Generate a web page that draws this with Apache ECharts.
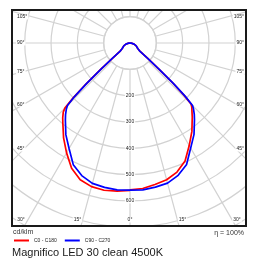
<!DOCTYPE html>
<html>
<head>
<meta charset="utf-8">
<script src="https://cdn.jsdelivr.net/npm/echarts@6/dist/echarts.min.js"></script>
<style>
html, body { margin: 0; padding: 0; background: #fff; }
#chart { width: 260px; height: 260px; }
</style>
</head>
<body>
<div id="chart"></div>
<script>
// luminous intensity, cd/klm
var gammaAngles = [0, 5, 10, 15, 20, 25, 30, 35, 40, 42, 44, 45, 46, 47, 48, 49, 50, 55, 60, 65, 70, 75, 80, 85, 90];
var c0Values   = [558, 555, 546, 538, 522, 495, 450, 410, 368, 352, 338, 328, 285, 220, 145, 88, 50, 36, 30, 26, 21, 16, 11, 5, 0];
var c180Values = [560, 565, 568, 565, 553, 525, 482, 440, 397, 382, 365, 350, 300, 230, 150, 90, 50, 36, 30, 26, 21, 16, 11, 5, 0];
var c90Values  = [559, 560, 556, 551, 535, 509, 461, 424, 381, 365, 347, 336, 292, 225, 148, 89, 50, 36, 30, 26, 21, 16, 11, 5, 0];
var c270Values = [559, 560, 557, 552, 536, 510, 463, 425, 382, 366, 348, 336, 293, 226, 148, 89, 50, 36, 30, 26, 21, 16, 11, 5, 0];

var radiusLabels = [200, 300, 400, 500, 600];
var angleLabels = [0, 15, 30, 45, 60, 75, 90, 105];
var seriesNames = ['C0 - C180', 'C90 - C270'];
var seriesColors = ['#ff0000', '#0000ff'];
var chartTitle = 'Magnifico LED 30 clean 4500K';
var unitLabel = 'cd/klm';
var efficiencyLabel = 'η = 100%';

var cx = 130, cy = 43;
var pxPer100 = 26.32;
var gridColor = '#d2d2d2';
var smallFont = 'Liberation Sans';

// left half is C180 / C270, right half C0 / C90
function buildCurve(leftValues, rightValues) {
    var points = [];
    for (var i = 0; i < gammaAngles.length; i++) {
        points.push([leftValues[i], gammaAngles[i]]);
    }
    for (var j = gammaAngles.length - 1; j >= 0; j--) {
        points.push([rightValues[j], 360 - gammaAngles[j]]);
    }
    return points;
}

function makeLabel(x, y, text, align) {
    return {
        type: 'text',
        z: 30,
        x: x,
        y: y,
        style: {
            text: text,
            fill: '#222',
            font: '5px "' + smallFont + '"',
            align: align,
            verticalAlign: 'middle',
            backgroundColor: '#fff',
            padding: [0, 1]
        }
    };
}

// angle labels sit where the spokes meet the frame
function angleLabelGraphics() {
    var out = [];
    angleLabels.forEach(function (g) {
        var rad = g * Math.PI / 180;
        var text = g + '°';
        if (g === 0) {
            out.push(makeLabel(cx, 220, text, 'center'));
        } else if (g >= 45) {
            var y = Math.max(17, cy + 106 / Math.tan(rad));
            out.push(makeLabel(16, y, text, 'left'));
            out.push(makeLabel(245, y, text, 'right'));
        } else {
            var dx = 196 * Math.tan(rad);
            out.push(makeLabel(Math.max(21, cx - dx), 220, text, 'center'));
            out.push(makeLabel(Math.min(237, cx + dx), 220, text, 'center'));
        }
    });
    return out;
}

var coverStyle = { fill: '#fff' };
var graphics = [
    // keeps the spokes out of the first ring
    {
        type: 'circle', z: 1,
        shape: { cx: cx, cy: cy, r: pxPer100 },
        style: { fill: '#fff', stroke: gridColor, lineWidth: 1.2 }
    },
    { type: 'rect', z: 10, shape: { x: 0, y: 0, width: 260, height: 9 }, style: coverStyle },
    { type: 'rect', z: 10, shape: { x: 0, y: 0, width: 11, height: 260 }, style: coverStyle },
    { type: 'rect', z: 10, shape: { x: 247, y: 0, width: 13, height: 260 }, style: coverStyle },
    { type: 'rect', z: 10, shape: { x: 0, y: 227, width: 260, height: 33 }, style: coverStyle },
    {
        type: 'rect', z: 11,
        shape: { x: 12, y: 10, width: 234, height: 216 },
        style: { fill: null, stroke: '#1a1a1a', lineWidth: 2 }
    },
    {
        type: 'text', z: 30, x: 13, y: 232,
        style: { text: unitLabel, fill: '#333', font: '7px "' + smallFont + '"', verticalAlign: 'middle' }
    },
    {
        type: 'text', z: 30, x: 244, y: 233,
        style: { text: efficiencyLabel, fill: '#333', font: '7px "' + smallFont + '"', align: 'right', verticalAlign: 'middle' }
    }
].concat(angleLabelGraphics());

var chart = echarts.init(document.getElementById('chart'), null, { renderer: 'canvas' });

var option = {
    animation: false,
    backgroundColor: '#fff',
    title: {
        text: chartTitle,
        left: 12,
        top: 247,
        padding: 0,
        z: 20,
        textStyle: {
            fontSize: 11,
            fontWeight: 'normal',
            color: '#1a1a1a',
            fontFamily: 'Liberation Sans'
        }
    },
    legend: {
        data: seriesNames,
        icon: 'rect',
        left: 14,
        top: 238,
        padding: 0,
        itemWidth: 15,
        itemHeight: 2,
        itemGap: 8,
        z: 20,
        textStyle: { fontSize: 5, color: '#222', fontFamily: smallFont }
    },
    polar: {
        center: [cx, cy],
        radius: [0, pxPer100 * 9]
    },
    angleAxis: {
        type: 'value',
        min: 0,
        max: 360,
        interval: 15,
        startAngle: 270,
        clockwise: true,
        z: 0,
        axisLine: { show: false },
        axisTick: { show: false },
        axisLabel: { show: false },
        splitLine: { show: true, lineStyle: { color: gridColor, width: 1.2 } }
    },
    radiusAxis: {
        type: 'value',
        min: 0,
        max: 900,
        interval: 100,
        z: 5,
        axisLine: { show: false },
        axisTick: { show: false },
        axisLabel: {
            show: true,
            margin: 0,
            fontSize: 5,
            fontFamily: smallFont,
            color: '#222',
            align: 'center',
            verticalAlign: 'middle',
            backgroundColor: '#fff',
            padding: [0, 1],
            formatter: function (v) {
                return radiusLabels.indexOf(v) >= 0 ? String(v) : '';
            }
        },
        splitLine: { show: true, lineStyle: { color: gridColor, width: 1.2 } }
    },
    series: [
        {
            name: seriesNames[0],
            type: 'line',
            coordinateSystem: 'polar',
            symbol: 'none',
            clip: false,
            z: 6,
            color: seriesColors[0],
            lineStyle: { color: seriesColors[0], width: 1.7 },
            data: buildCurve(c180Values, c0Values)
        },
        {
            name: seriesNames[1],
            type: 'line',
            coordinateSystem: 'polar',
            symbol: 'none',
            clip: false,
            z: 7,
            color: seriesColors[1],
            lineStyle: { color: seriesColors[1], width: 1.7 },
            data: buildCurve(c270Values, c90Values)
        }
    ],
    graphic: graphics
};

chart.setOption(option);
</script>
</body>
</html>
